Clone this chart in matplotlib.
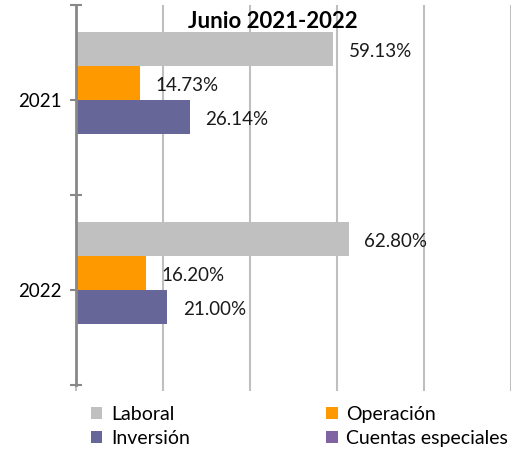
import numpy as np
import matplotlib
matplotlib.use("Agg")
import matplotlib.pyplot as plt
from matplotlib.patches import Patch

plt.rcParams["font.family"] = ["Lato", "DejaVu Sans"]

years = ["2021", "2022"]
series = ["Laboral", "Operación", "Inversión", "Cuentas especiales"]
laboral = [59.13, 62.80]
operacion = [14.73, 16.20]
inversion = [26.14, 21.00]
cuentas = [0.0, 0.0]
colors = ["#C0C0C0", "#FF9900", "#666699", "#8064A2"]

values = [laboral, operacion, inversion, cuentas]

fig = plt.figure(figsize=(5.11, 4.53), dpi=100)
ax = fig.add_axes([76 / 511, 1 - 385 / 453, 1 - 76 / 511, 380 / 453])

y = np.arange(len(years))
h = 0.18
offsets = (np.arange(4) - 1.5) * h
for vals, off, col in zip(values, offsets, colors):
    bars = ax.barh(y + off, vals, height=h, color=col, zorder=3)
    for b, v in zip(bars, vals):
        if v > 0:
            ax.annotate(f"{v:.2f}%", xy=(v, b.get_y() + b.get_height() / 2),
                        xytext=(11, -2), textcoords="offset points",
                        ha="left", va="center", fontsize=13.5, color="#1a1a1a")

ax.set_xlim(0, 100)
ax.set_ylim(1.5, -0.5)
ax.set_xticks(np.arange(0, 101, 20))
ax.set_xticklabels([])
ax.tick_params(axis="x", length=4, color="#BFBFBF", width=1.5)
ax.grid(axis="x", color="#BFBFBF", linewidth=1.5, zorder=0)

ax.set_yticks(y)
ax.set_yticklabels(years, fontsize=13.5)
ax.set_yticks([-0.5, 0.5, 1.5], minor=True)
ax.tick_params(axis="y", which="both", direction="inout", length=9,
               width=1.5, color="#888888", pad=6)

for s in ["top", "right", "bottom"]:
    ax.spines[s].set_visible(False)
ax.spines["left"].set_color("#888888")
ax.spines["left"].set_linewidth(2)
ax.spines["left"].set_zorder(4)

fig.text(273 / 511, 1 - 21 / 453, "Junio 2021-2022", ha="center", va="center",
         fontsize=16, fontweight="bold")

# legend filled column-wise, so reorder to read row-wise
order = [0, 2, 1, 3]
handles = [Patch(facecolor=colors[i], edgecolor="none") for i in order]
labels = [series[i] for i in order]
fig.legend(handles, labels, loc="lower left", bbox_to_anchor=(79 / 511, -0.012),
           ncol=2, frameon=False, fontsize=14, handlelength=0.6,
           handleheight=0.6, handletextpad=0.45, columnspacing=7.0,
           labelspacing=0.35, borderaxespad=0.2)

fig.savefig("out.png", dpi=100)
